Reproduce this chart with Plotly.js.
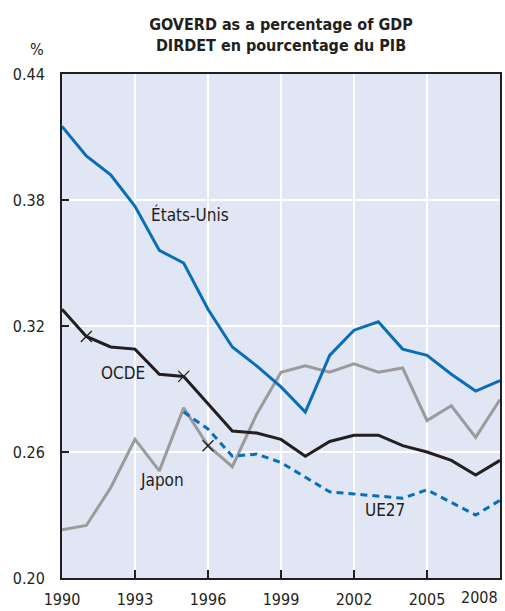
<!DOCTYPE html>
<html>
<head>
<meta charset="utf-8">
<script src="https://cdn.plot.ly/plotly-3.0.1.min.js"></script>
<style>html,body{margin:0;padding:0;background:#fff;}#chart{width:505px;height:611px;}</style>
</head>
<body>
<div id="chart"></div>
<script>
const years = [1990,1991,1992,1993,1994,1995,1996,1997,1998,1999,2000,2001,2002,2003,2004,2005,2006,2007,2008];
const etatsUnis = [0.415,0.401,0.392,0.377,0.356,0.350,0.328,0.310,0.301,0.291,0.279,0.306,0.318,0.322,0.309,0.306,0.297,0.289,0.294];
const ocde = [0.328,0.315,0.310,0.309,0.297,0.296,0.283,0.270,0.269,0.266,0.258,0.265,0.268,0.268,0.263,0.260,0.256,0.249,0.256];
const japon = [0.223,0.225,0.243,0.266,0.251,0.281,0.263,0.253,0.278,0.298,0.301,0.298,0.302,0.298,0.300,0.275,0.282,0.267,0.285];
const ue27Years = [1995,1996,1997,1998,1999,2000,2001,2002,2003,2004,2005,2006,2007,2008];
const ue27 = [0.279,0.271,0.258,0.259,0.255,0.248,0.241,0.240,0.239,0.238,0.242,0.236,0.230,0.237];
const breakYears = [1991,1995,1996];
const breakValues = [0.315,0.296,0.263];
const xTickVals = [1990,1993,1996,1999,2002,2005];
const lastTick = "2008";
const yTickVals = [0.20,0.26,0.32,0.38,0.44];
const labels = [
  {text:"États-Unis", x:1995.26, y:0.373},
  {text:"OCDE", x:1992.52, y:0.2975},
  {text:"Japon", x:1994.1, y:0.2467},
  {text:"UE27", x:2003.28, y:0.2324}
];

const FONT = "'Liberation Sans Narrow','Arial Narrow','DejaVu Sans Condensed',sans-serif";
const BLUE = '#0A6EB6', GRAY = '#9B9B9B', BLACK = '#231F20';

const traces = [
  {x:years, y:japon, mode:'lines', line:{color:GRAY, width:3}, hoverinfo:'skip'},
  {x:ue27Years, y:ue27, mode:'lines', line:{color:BLUE, width:3, dash:'7px,5px'}, hoverinfo:'skip'},
  {x:years, y:ocde, mode:'lines', line:{color:BLACK, width:3}, hoverinfo:'skip'},
  {x:years, y:etatsUnis, mode:'lines', line:{color:BLUE, width:3}, hoverinfo:'skip'},
  {x:breakYears, y:breakValues, mode:'markers', marker:{symbol:'x-thin', size:11, line:{width:1.3, color:BLACK}}, hoverinfo:'skip'}
];

const annotations = labels.map(l => ({text:l.text, x:l.x, y:l.y, xref:'x', yref:'y', showarrow:false, font:{family:FONT, size:17, color:BLACK}}));
annotations.push({text:'%', x:(37-62)/438, y:(578-50)/504, xref:'paper', yref:'paper', xanchor:'center', yanchor:'middle', showarrow:false, font:{family:FONT, size:16, color:BLACK}});
annotations.push({text:lastTick, x:2008, y:0, xref:'x', yref:'paper', xanchor:'right', yanchor:'top', yshift:-8, showarrow:false, font:{family:FONT, size:16, color:BLACK}});

const layout = {
  width:505, height:611,
  margin:{l:62, r:5, t:74, b:33},
  paper_bgcolor:'#ffffff',
  plot_bgcolor:'#E0E6F4',
  showlegend:false,
  title:{text:'<b>GOVERD as a percentage of GDP<br>DIRDET en pourcentage du PIB</b>', font:{family:FONT, size:16, color:BLACK}, x:0.5, xref:'paper', y:1-30/611, yref:'container', yanchor:'middle'},
  xaxis:{range:[1990,2008], tickvals:xTickVals, ticks:'inside', ticklen:8, tickwidth:1.2, tickcolor:BLACK,
    showgrid:true, gridcolor:'#ffffff', gridwidth:1.5, zeroline:false,
    showline:true, linecolor:BLACK, linewidth:2, mirror:true,
    tickfont:{family:FONT, size:16, color:BLACK}, ticklabelstandoff:6, fixedrange:true},
  yaxis:{range:[0.20,0.44], tickvals:yTickVals, tickformat:'.2f', ticks:'inside', ticklen:7, tickwidth:1.2, tickcolor:BLACK,
    showgrid:true, gridcolor:'#ffffff', gridwidth:1.5, zeroline:false,
    showline:true, linecolor:BLACK, linewidth:2, mirror:true,
    tickfont:{family:FONT, size:16, color:BLACK}, ticklabelstandoff:12, fixedrange:true},
  annotations:annotations
};

Plotly.newPlot('chart', traces, layout, {staticPlot:true, displayModeBar:false});
</script>
</body>
</html>
